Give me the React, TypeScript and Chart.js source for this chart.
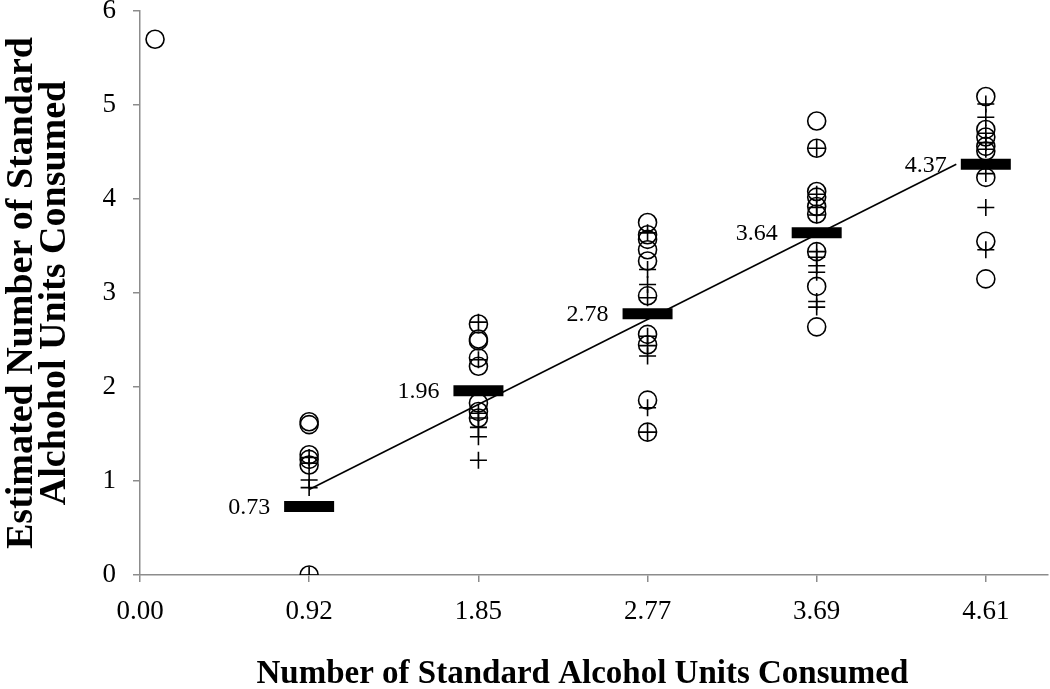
import React, { useEffect, useRef } from "react";
import { Chart, registerables } from "chart.js";

Chart.register(...registerables);

// X tick positions and labels
const xTicks = [0, 0.922, 1.845, 2.767, 3.689, 4.611];
const xTickLabels = ["0.00", "0.92", "1.85", "2.77", "3.69", "4.61"];

// Estimated values (circles) per actual dose
const circlesOutlierX = [0.082];
const circlesOutlierY = [5.7];
const circles1 = [1.63, 1.6, 1.28, 1.23, 1.17, 0.0];
const circles2 = [2.67, 2.51, 2.49, 2.31, 2.22, 1.83, 1.74, 1.67];
const circles3 = [3.75, 3.62, 3.57, 3.46, 3.34, 2.97, 2.56, 2.45, 1.86, 1.52];
const circles4 = [4.83, 4.54, 4.08, 4.02, 3.92, 3.84, 3.44, 3.07, 2.64];
const circles5 = [5.09, 4.74, 4.66, 4.56, 4.51, 4.23, 3.55, 3.15];

// Estimated values (crosses) per actual dose
const plus1 = [1.25, 1.19, 1.01, 0.93, 0.0];
const plus2 = [2.69, 2.29, 1.72, 1.67, 1.57, 1.47, 1.22];
const plus3 = [3.64, 3.25, 3.09, 2.95, 2.54, 2.44, 2.33, 1.78, 1.52];
const plus4 = [4.54, 4.05, 3.91, 3.83, 3.44, 3.38, 3.29, 3.22, 2.91, 2.85];
const plus5 = [5.01, 4.87, 4.7, 4.6, 4.53, 4.27, 3.91, 3.46];

// Means
const meanX = [0.922, 1.845, 2.767, 3.689, 4.611];
const meanY = [0.73, 1.96, 2.78, 3.64, 4.37];

// Trend line
const trendX = [0.922, 4.45];
const trendY = [0.91, 4.37];

const FONT = '"Liberation Serif", "Times New Roman", serif';

export default function App() {
  const ref = useRef<HTMLCanvasElement | null>(null);

  useEffect(() => {
    if (!ref.current) return;
    const groupsC = [circles1, circles2, circles3, circles4, circles5];
    const groupsP = [plus1, plus2, plus3, plus4, plus5];
    const circleData: { x: number; y: number }[] = [];
    circlesOutlierX.forEach((x, i) => circleData.push({ x, y: circlesOutlierY[i] }));
    groupsC.forEach((g, gi) => g.forEach((y) => circleData.push({ x: meanX[gi], y })));
    const plusData: { x: number; y: number }[] = [];
    groupsP.forEach((g, gi) => g.forEach((y) => plusData.push({ x: meanX[gi], y })));
    const meanData = meanX.map((x, i) => ({ x, y: meanY[i] }));
    const trendData = trendX.map((x, i) => ({ x, y: trendY[i] }));

    const BAR_HALF = 25;
    const labelPlugin = {
      id: "meanLabels",
      afterDatasetsDraw(chart: any) {
        const { ctx, scales } = chart;
        ctx.save();
        ctx.font = `24px ${FONT}`;
        ctx.fillStyle = "#000";
        ctx.textAlign = "right";
        ctx.textBaseline = "middle";
        meanX.forEach((x, i) => {
          const px = scales.x.getPixelForValue(x);
          const py = scales.y.getPixelForValue(meanY[i]);
          ctx.fillText(meanY[i].toFixed(2), px - BAR_HALF - 14, py + 1);
        });
        ctx.restore();
      },
    };

    const chart = new Chart(ref.current, {
      type: "scatter",
      data: {
        datasets: [
          {
            label: "Mean",
            data: meanData,
            pointStyle: "line",
            pointRadius: BAR_HALF,
            pointBorderWidth: 11,
            borderColor: "#000",
            backgroundColor: "#000",
            order: 0,
          } as any,
          {
            label: "Trend",
            data: trendData,
            showLine: true,
            pointRadius: 0,
            borderColor: "#000",
            borderWidth: 1.6,
            order: 1,
          } as any,
          {
            label: "Circles",
            data: circleData,
            pointStyle: "circle",
            pointRadius: 9,
            pointBorderWidth: 1.6,
            borderColor: "#000",
            backgroundColor: "rgba(0,0,0,0)",
            order: 2,
          } as any,
          {
            label: "Plus",
            data: plusData,
            pointStyle: "cross",
            pointRadius: 8.5,
            pointBorderWidth: 1.6,
            borderColor: "#000",
            backgroundColor: "rgba(0,0,0,0)",
            order: 3,
          } as any,
        ],
      },
      options: {
        animation: false,
        responsive: true,
        maintainAspectRatio: false,
        events: [],
        layout: { autoPadding: false, padding: { top: 11, right: 2, left: 0, bottom: 0 } },
        plugins: {
          legend: { display: false },
          tooltip: { enabled: false },
        },
        scales: {
          x: {
            type: "linear",
            min: 0,
            max: 4.95,
            afterBuildTicks: (scale: any) => {
              scale.ticks = xTicks.map((v) => ({ value: v }));
            },
            afterFit: (scale: any) => {
              scale.height = 114;
              scale.paddingLeft = 0;
              scale.paddingRight = 0;
            },
            ticks: {
              autoSkip: false,
              maxRotation: 0,
              padding: 14,
              color: "#000",
              font: { family: FONT, size: 27 },
              callback: (_v: any, i: number) => xTickLabels[i],
            },
            grid: {
              drawOnChartArea: false,
              drawTicks: true,
              tickLength: 7,
              color: "#8c8c8c",
              lineWidth: 1.5,
            },
            border: { color: "#8c8c8c", width: 1.5 },
            title: {
              display: true,
              text: "Number of Standard Alcohol Units Consumed\u2002\u2009",
              color: "#000",
              font: { family: FONT, size: 33, weight: "bold", lineHeight: 1 },
              padding: { top: 0, bottom: -2 },
            },
          },
          y: {
            type: "linear",
            min: 0,
            max: 6,
            afterFit: (scale: any) => {
              scale.width = 140;
              scale.paddingTop = 0;
              scale.paddingBottom = 0;
            },
            ticks: {
              stepSize: 1,
              padding: 17,
              color: "#000",
              font: { family: FONT, size: 27 },
            },
            grid: {
              drawOnChartArea: false,
              drawTicks: true,
              tickLength: 7,
              color: "#8c8c8c",
              lineWidth: 1.5,
            },
            border: { color: "#8c8c8c", width: 1.5 },
            title: {
              display: true,
              text: ["Estimated Number of Standard", "Alchohol Units Consumed"],
              color: "#000",
              font: { family: FONT, size: 38, weight: "bold", lineHeight: 0.88 },
              padding: { top: 5, bottom: 0 },
            },
          },
        },
      },
      plugins: [labelPlugin],
    });
    return () => chart.destroy();
  }, []);

  return (
    <div style={{ position: "absolute", left: 0, top: 0, width: 1050, height: 689 }}>
      <canvas ref={ref} />
    </div>
  );
}
